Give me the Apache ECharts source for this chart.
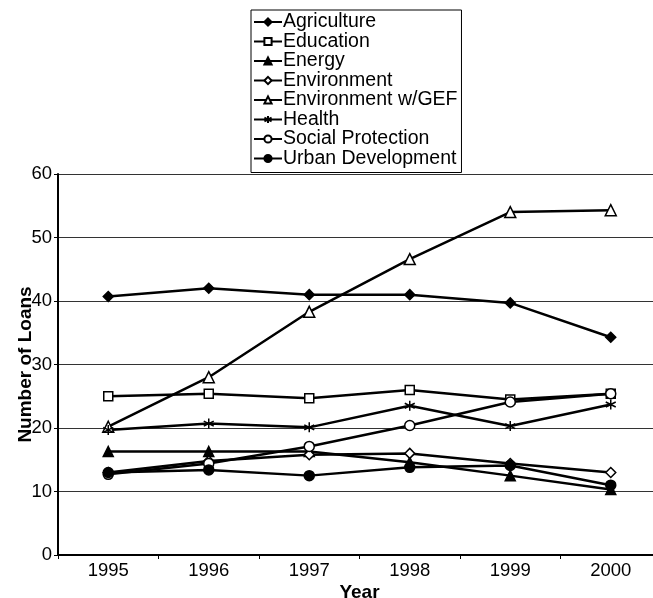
<!DOCTYPE html>
<html>
<head>
<meta charset="utf-8">
<script src="https://cdn.jsdelivr.net/npm/echarts@6/dist/echarts.min.js"></script>
<style>html,body{margin:0;padding:0;background:#fff}#c{width:653px;height:598px}</style>
</head>
<body>
<div id="c"></div>
<script>
const years = ['1995','1996','1997','1998','1999','2000'];
const agriculture = [40.7, 42.0, 41.0, 41.0, 39.7, 34.3];
const education = [25.0, 25.4, 24.7, 26.0, 24.5, 25.4];
const energy = [16.3, 16.3, 16.3, 14.6, 12.5, 10.3];
const environment = [13.0, 14.8, 15.8, 16.0, 14.4, 13.0];
const environmentGEF = [20.2, 28.0, 38.3, 46.6, 54.0, 54.3];
const health = [19.7, 20.7, 20.1, 23.5, 20.3, 23.7];
const socialProtection = [12.7, 14.4, 17.1, 20.4, 24.1, 25.4];
const urbanDevelopment = [13.0, 13.4, 12.5, 13.8, 14.1, 11.0];

const FONT = '"Liberation Sans", Arial, Helvetica, sans-serif';
const asterisk = 'path://M5,0L5,10M0.7,2.5L9.3,7.5M9.3,2.5L0.7,7.5';

function mk(name, data, symbol, size, filled) {
  return {
    name: name, type: 'line', data: data, symbol: symbol, symbolSize: size,
    showAllSymbol: true,
    lineStyle: { color: '#000', width: 2.5 },
    itemStyle: { color: filled ? '#000' : '#fff', borderColor: '#000', borderWidth: 1.5 },
    emphasis: { disabled: true },
    animation: false
  };
}

const series = [
  mk('Agriculture', agriculture, 'diamond', 10, true),
  mk('Education', education, 'rect', 9, false),
  mk('Energy', energy, 'triangle', 10, true),
  mk('Environment', environment, 'diamond', 10, false),
  mk('Environment w/GEF', environmentGEF, 'triangle', 11, false),
  mk('Health', health, asterisk, 10, false),
  mk('Social Protection', socialProtection, 'circle', 10, false),
  mk('Urban Development', urbanDevelopment, 'circle', 10, true)
];
series[5].itemStyle = { color: 'none', borderColor: '#000', borderWidth: 1.5 };

const chart = echarts.init(document.getElementById('c'), null, { renderer: 'canvas' });
chart.setOption({
  animation: false,
  backgroundColor: '#fff',
  textStyle: { fontFamily: FONT },
  legend: {
    orient: 'vertical', left: 251, top: 10,
    padding: [2, 4, 4, 2],
    itemGap: -0.5, itemWidth: 28, itemHeight: 9,
    borderColor: '#000', borderWidth: 1,
    textStyle: { fontFamily: FONT, fontSize: 19.5, color: '#000', padding: [0, 0, 0, -4] },
    data: series.map(s => s.name)
  },
  grid: { left: 58, top: 174, width: 603, height: 381, containLabel: false, outerBoundsMode: 'none' },
  xAxis: {
    type: 'category', data: years, boundaryGap: true,
    name: 'Year', nameLocation: 'middle', nameGap: 28, nameMoveOverlap: false,
    nameTextStyle: { fontFamily: FONT, fontSize: 19, fontWeight: 'bold', color: '#000' },
    axisLine: { lineStyle: { color: '#000', width: 2 } },
    axisTick: { show: true, length: 4, interval: 0, lineStyle: { color: '#000', width: 1 } },
    axisLabel: { fontFamily: FONT, fontSize: 18.5, color: '#000', margin: 6 },
    splitLine: { show: false }
  },
  yAxis: {
    type: 'value', min: 0, max: 60, interval: 10,
    name: 'Number of Loans', nameLocation: 'middle', nameGap: 23, nameMoveOverlap: false,
    nameTextStyle: { fontFamily: FONT, fontSize: 19, fontWeight: 'bold', color: '#000' },
    axisLine: { show: true, lineStyle: { color: '#000', width: 2 } },
    axisTick: { show: true, length: 4, lineStyle: { color: '#000', width: 1 } },
    axisLabel: { fontFamily: FONT, fontSize: 18.5, color: '#000', margin: 6 },
    splitLine: { show: true, lineStyle: { color: '#333', width: 1 } }
  },
  series: series
});
</script>
</body>
</html>
